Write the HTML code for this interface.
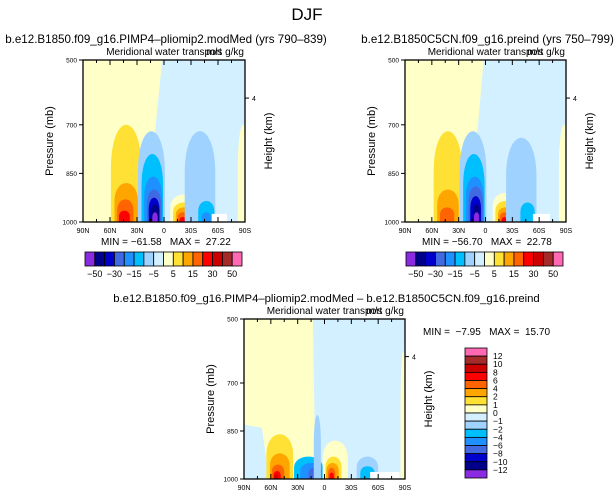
<!DOCTYPE html>
<html><head><meta charset="utf-8"><style>
body{margin:0;background:#fff;width:615px;height:499px;overflow:hidden;font-family:"Liberation Sans",sans-serif}
svg text{font-family:"Liberation Sans",sans-serif;fill:#000;white-space:pre}
</style></head><body>
<svg id="c" width="615" height="499"></svg>
<script>
const palette=["#8a2be2","#00008b","#0000cd","#4169e1","#1e90ff","#00bfff","#a0d2ff","#d2f0ff","#ffffc8","#ffe135","#ffa500","#ff6400","#ff0000","#cd0000","#a52a2a","#ff69b4"];
// plot 1 blobs
const p1Lat=[42,42,43,44,14,13,12,11,11,10,10,-22,-22,-22,-21,-21,-40,-47,-47,-88];
const p1Hw=[17,13,9,6,15,12,10,8,6,5,3,15,12,9,6,4,17,9,5,6];
const p1Top=[700,880,930,965,720,790,860,900,925,945,970,915,940,955,970,985,720,935,970,700];
const p1Col=[9,10,11,12,6,5,4,3,2,1,0,8,9,10,11,12,6,5,4,8];
// plot 2 blobs
const p2Lat=[42,42,43,14,13,12,11,11,10,10,-22,-22,-22,-21,-21,-40,-47,-88];
const p2Hw=[16,12,8,15,12,10,8,6,4,3,14,11,8,5,3,17,8,6];
const p2Top=[720,900,955,720,790,860,890,920,945,970,910,935,955,970,985,740,940,700];
const p2Col=[9,10,11,6,5,4,3,2,1,0,8,9,10,11,12,6,5,8];
// plot 3 blobs
const p3Lat=[50,50,52,53,54,18,15,12,-12,-10,-9,-8,-8,-48,-48,8,-88];
const p3Hw=[15,11,7,4,2,16,12,6,14,9,7,4,2.5,12,8,4,3];
const p3Top=[860,920,955,975,985,930,950,965,880,930,950,965,980,930,960,800,600];
const p3Col=[9,10,11,12,13,5,4,3,8,9,10,11,12,6,5,6,8];
const cb1Labels=["-50","-30","-15","-5","5","15","30","50"];
const cb3Labels=["12","10","8","6","4","2","1","0","-1","-2","-4","-6","-8","-10","-12"];
const xLabels=["90N","60N","30N","0","30S","60S","90S"];
const pTicks=[500,700,850,1000];

const S=document.getElementById('c');const NS="http://www.w3.org/2000/svg";
function mk(t,a,p){const e=document.createElementNS(NS,t);for(const k in a)e.setAttribute(k,a[k]);(p||S).appendChild(e);return e;}
function txt(x,y,s,size,anchor,name,rot){const e=mk('text',{x:x,y:y,'font-size':size,'text-anchor':anchor||'middle'});e.textContent=s;


if(rot)e.setAttribute('transform','rotate(-90 '+x+' '+y+')');return e;}

txt(307,20,"DJF",17,'middle','figure-title').setAttribute('font-weight','300');

function plot(id,x0,y0,w,h,lat,hw,top,col,title,tsize,minmax,minX,minY,bgTop,bgBot,extraBlue,white){
 const g=mk('g',{});
 
 
 const X=l=>x0+(90-l)/180*w, Y=p=>y0+(p-500)/500*h;
 mk('clipPath',{id:id+'c'},g);mk('rect',{x:x0,y:y0,width:w,height:h},g.lastChild);
 const cg=mk('g',{'clip-path':'url(#'+id+'c)'},g);
 mk('rect',{x:x0,y:y0,width:w,height:h,fill:palette[7]},cg);
 const bg=mk('polygon',{points:`${x0},${y0} ${X(bgTop)},${y0} ${X(bgBot)},${Y(1000)} ${x0},${Y(1000)}`,fill:palette[8]},cg);
 
 if(extraBlue) mk('polygon',{points:`${x0},${Y(830)} ${X(70)},${Y(840)} ${X(62)},${Y(1000)} ${x0},${Y(1000)}`,fill:palette[7]},cg);
 for(let i=0;i<lat.length;i++){
  const xl=X(lat[i]+hw[i]),xr=X(lat[i]-hw[i]),yb=Y(1000)+2,yt=Y(top[i]);
  const ym=yt+(yb-yt)*0.45, yc=ym-(ym-yt)/0.75;
  const p=mk('path',{d:`M${xl},${yb} L${xl},${ym} C${xl},${yc} ${xr},${yc} ${xr},${ym} L${xr},${yb} Z`,fill:palette[col[i]]},cg);
  
  
 }
 mk('rect',{x:X(white[0]),y:Y(white[2]),width:X(white[1])-X(white[0]),height:Y(1000)-Y(white[2]),fill:'#fff'},cg);
 mk('rect',{x:x0,y:y0,width:w,height:h,fill:'none',stroke:'#000','stroke-width':1.3},g);
 for(let l=90;l>=-90;l-=15){const x=X(l),L=l%30==0?5:3;
  mk('line',{x1:x,y1:y0+h,x2:x,y2:y0+h-L,stroke:'#000'},g);mk('line',{x1:x,y1:y0,x2:x,y2:y0+L,stroke:'#000'},g);}
 xLabels.forEach((s,i)=>txt(X(90-30*i),y0+h+11,s,7,'middle','x-tick-label'));
 pTicks.forEach(p=>{mk('line',{x1:x0-4,y1:Y(p),x2:x0,y2:Y(p),stroke:'#000'},g);txt(x0-6,Y(p)+2.5,String(p),6.5,'end','y-tick-label');});
 const y4=y0+h*0.235;mk('line',{x1:x0+w,y1:y4,x2:x0+w+4,y2:y4,stroke:'#000'},g);txt(x0+w+7,y4+3,"4",7,'start','height-tick-label');
 txt(x0-30,y0+h/2,"Pressure (mb)",11,'middle','y-axis-title',true);
 txt(x0+w+27,y0+h/2,"Height (km)",11,'middle','right-axis-title',true);
 txt(x0+w/2,y0-5,"Meridional water transport",10,'middle','plot-subtitle');
 txt(x0+w-1,y0-5,"m/s g/kg",10,'end','units-label');
 txt(x0+w/2+2,y0-17,title,tsize,'middle','plot-title');
 txt(minX,minY,minmax,10,'start','min-max-label');
}
plot('plot-pliomip',83,60,162,162,p1Lat,p1Hw,p1Top,p1Col,"b.e12.B1850.f09_g16.PIMP4\u2013pliomip2.modMed (yrs 790\u2013839)",11.6,"MIN = \u221261.58   MAX =  27.22",101,245,2,20,false,[-53,-70,975]);
plot('plot-preind',405,60,161,162,p2Lat,p2Hw,p2Top,p2Col,"b.e12.B1850C5CN.f09_g16.preind (yrs 750\u2013799)",11.6,"MIN = \u221256.70   MAX =  22.78",422,245,2,18,false,[-53,-72,975]);
plot('plot-difference',244,319,161,160,p3Lat,p3Hw,p3Top,p3Col,"b.e12.B1850.f09_g16.PIMP4\u2013pliomip2.modMed \u2013 b.e12.B1850C5CN.f09_g16.preind",11.3,"MIN =  \u22127.95   MAX =  15.70",423,335,13,10,true,[-51,-84,978]);

function hbar(x0,y0,w,h,name){const g=mk('g',{});
 const bw=w/16;palette.forEach((c,i)=>mk('rect',{x:x0+i*bw,y:y0,width:bw,height:h,fill:c,stroke:'#000','stroke-width':0.8},g));
 cb1Labels.forEach((s,i)=>txt(x0+(2*i+1)*bw,y0+h+11,s.replace('-','\u2212'),9,'middle','colorbar-label'));}
hbar(85,252,157,14,'colorbar-1');hbar(406,252,157,14,'colorbar-2');
(function(){const x0=465,y0=348,w=22,h=130,bh=h/16;const g=mk('g',{});
 palette.slice().reverse().forEach((c,i)=>mk('rect',{x:x0,y:y0+i*bh,width:w,height:bh,fill:c,stroke:'#000','stroke-width':0.8},g));
 cb3Labels.forEach((s,i)=>txt(x0+28,356+i*(114/14)+3,s.replace('-','\u2212'),8.5,'start','colorbar-label'));})();
</script>
</body></html>
